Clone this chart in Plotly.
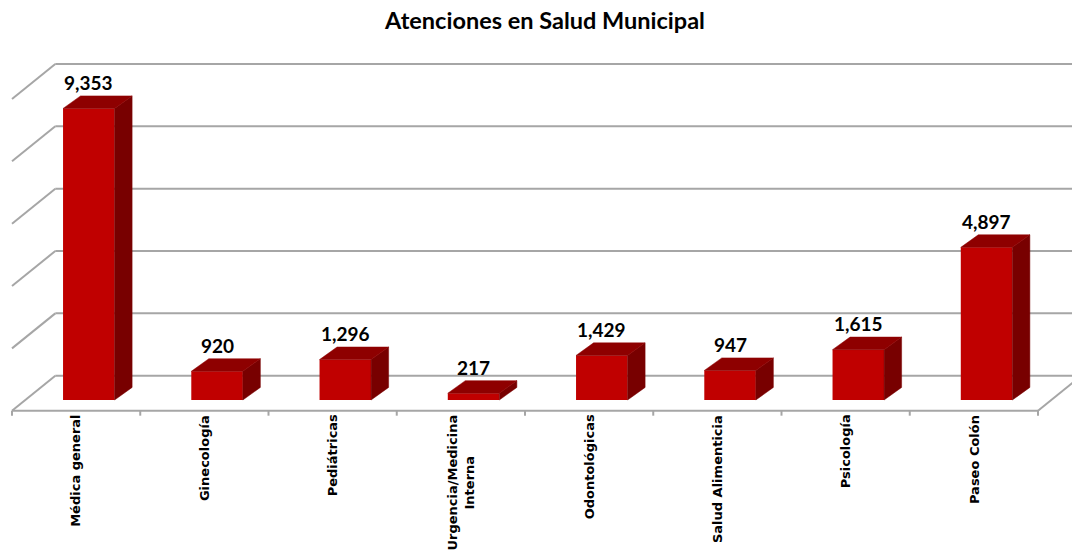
import plotly.graph_objects as go

# Attendance counts per municipal health service
categories = ["Médica general", "Ginecología", "Pediátricas", "Urgencia/Medicina Interna",
              "Odontológicas", "Salud Alimenticia", "Psicología", "Paseo Colón"]
tick_labels = ["Médica general", "Ginecología", "Pediátricas", "Urgencia/Medicina<br>Interna",
               "Odontológicas", "Salud Alimenticia", "Psicología", "Paseo Colón"]
atenciones = [9353, 920, 1296, 217, 1429, 947, 1615, 4897]
grid_values = [0, 2000, 4000, 6000, 8000, 10000]

# Pseudo-3D geometry (x in category units, y in value units)
DEPTH_X = 0.3376     # horizontal shift from front floor edge to back wall
DEPTH_Y = 1123       # vertical shift from front floor edge to back wall
BAR_SHIFT = 0.099    # bar front face offset from category centre
BAR_BASE = -780      # bar front face base level
BAR_W = 0.402
BAR_DX = 0.1365      # bar depth, horizontal
BAR_DY = 404         # bar depth, vertical

FRONT = "#C00000"
SIDE = "#780000"
TOP = "#8E0000"
GRID = "#A6A6A6"
FONT = "Lato"
LABEL_FONT = "DejaVu Sans"

n = len(categories)
idx = list(range(n))

fig = go.Figure()

# front faces
front_x = [i + BAR_SHIFT for i in idx]
fig.add_trace(go.Bar(
    x=front_x, y=atenciones, base=BAR_BASE, width=BAR_W,
    marker=dict(color=FRONT, line=dict(width=0)),
    hovertext=categories, hoverinfo="text+y",
))

# side and top faces
side_x, side_y, top_x, top_y = [], [], [], []
for cx, v in zip(front_x, atenciones):
    xl, xr = cx - BAR_W / 2, cx + BAR_W / 2
    ytop = BAR_BASE + v
    side_x += [xr, xr, xr + BAR_DX, xr + BAR_DX, xr, None]
    side_y += [BAR_BASE, ytop, ytop + BAR_DY, BAR_BASE + BAR_DY, BAR_BASE, None]
    top_x += [xl, xr, xr + BAR_DX, xl + BAR_DX, xl, None]
    top_y += [ytop, ytop, ytop + BAR_DY, ytop + BAR_DY, ytop, None]

fig.add_trace(go.Scatter(x=side_x, y=side_y, mode="lines", fill="toself",
                         fillcolor=SIDE, line=dict(width=0.5, color=SIDE), hoverinfo="skip"))
fig.add_trace(go.Scatter(x=top_x, y=top_y, mode="lines", fill="toself",
                         fillcolor=TOP, line=dict(width=0.5, color=TOP), hoverinfo="skip"))

x_left, x_right = -0.5, n - 0.5
shapes = []
line_style = dict(color=GRID, width=2)
for g in grid_values:
    # back wall
    shapes.append(dict(type="line", layer="below", x0=x_left + DEPTH_X, x1=x_right + DEPTH_X + 0.2,
                       y0=g, y1=g, line=line_style))
    # left side wall
    shapes.append(dict(type="line", layer="below", x0=x_left, y0=g - DEPTH_Y,
                       x1=x_left + DEPTH_X, y1=g, line=line_style))
# floor front edge and right edge
shapes.append(dict(type="line", layer="below", x0=x_left, x1=x_right, y0=-DEPTH_Y, y1=-DEPTH_Y,
                   line=line_style))
shapes.append(dict(type="line", layer="below", x0=x_right, y0=-DEPTH_Y, x1=x_right + DEPTH_X, y1=0,
                   line=line_style))
# tick marks at category boundaries
for k in range(n + 1):
    xb = x_left + k
    shapes.append(dict(type="line", layer="below", x0=xb, x1=xb, y0=-DEPTH_Y, y1=-DEPTH_Y - 160,
                       line=line_style))

annotations = []
for cx, v in zip(front_x, atenciones):
    annotations.append(dict(
        x=cx, y=BAR_BASE + v + BAR_DY, text=f"{v:,}", showarrow=False,
        xanchor="center", yanchor="bottom", yshift=0,
        font=dict(family=FONT, size=19, color="black", weight="bold"),
    ))
for i, lab in zip(idx, tick_labels):
    annotations.append(dict(
        x=i, y=-DEPTH_Y, text=lab, showarrow=False, textangle=-90,
        xanchor="center", yanchor="top", yshift=-2, align="center",
        font=dict(family=LABEL_FONT, size=13, color="black", weight="bold"),
    ))

fig.update_layout(
    width=1072, height=558,
    margin=dict(l=0, r=0, t=0, b=0),
    paper_bgcolor="white", plot_bgcolor="white",
    showlegend=False,
    title=dict(text="Atenciones en Salud Municipal", x=545 / 1072, xanchor="center",
               y=1 - 21 / 558, yanchor="middle", yref="container",
               font=dict(family=FONT, size=23.5, color="black", weight="bold")),
    xaxis=dict(visible=False, range=[-0.5 - 12 / 128.25, -0.5 + 1060 / 128.25], fixedrange=True),
    yaxis=dict(visible=False, range=[-5849, 12053], fixedrange=True),
    shapes=shapes,
    annotations=annotations,
)

fig.write_html("out.html")
